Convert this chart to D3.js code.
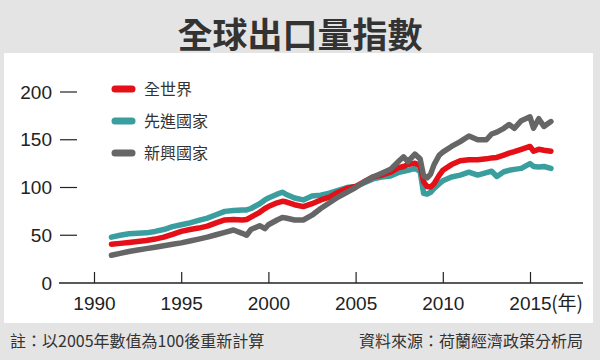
<!DOCTYPE html>
<html>
<head>
<meta charset="utf-8">
<script src="https://cdn.jsdelivr.net/npm/d3@7"></script>
<style>
  body { margin: 0; background: #e4e4e4; }
  svg { display: block; }
</style>
</head>
<body>
<svg id="chart" width="600" height="360"></svg>
<script>
// Export volume index (2005 = 100)
const years = [1991, 1991.5, 1992, 1992.5, 1993, 1993.5, 1994, 1994.5, 1995, 1995.5,
  1996, 1996.5, 1997, 1997.5, 1998, 1998.5, 1998.75, 1999, 1999.5, 1999.8,
  2000, 2000.5, 2000.8, 2001, 2001.5, 2002, 2002.5, 2003, 2003.5, 2004,
  2004.5, 2005, 2005.5, 2006, 2006.5, 2007, 2007.5, 2007.75, 2008, 2008.4,
  2008.7, 2008.9, 2009.1, 2009.3, 2009.5, 2009.8, 2010, 2010.5, 2011, 2011.5,
  2012, 2012.5, 2012.8, 2013.1, 2013.5, 2013.8, 2014.1, 2014.5, 2015, 2015.2,
  2015.5, 2015.8, 2016.2];

const world = [40.5, 41.5, 42.5, 43.5, 44.5, 46, 48, 51, 54, 56,
  57.5, 59.5, 63, 66, 66.5, 66, 66.5, 69, 74, 78,
  80, 84, 85.5, 85, 82, 80, 83, 87, 90, 95,
  99, 101, 106, 111, 113, 116, 121, 122, 124, 125.5,
  123, 106, 101, 100.5, 104, 113, 118, 124, 128, 129,
  129, 130, 131, 131.5, 134, 136, 137.5, 140, 143, 138,
  140, 139, 138];

const advanced = [48, 50, 51.5, 52, 52.5, 54, 56, 59, 61, 63,
  65.5, 68, 71.5, 75, 76, 76.5, 76.5, 78, 83, 87,
  89, 93, 95, 93, 89, 87, 91, 92, 94, 97,
  100, 101, 105, 109, 111, 112, 116, 117, 118, 120,
  117, 94, 93, 95, 99, 104, 107, 111, 113, 116,
  113, 115.5, 117, 111.5, 116.5, 118, 119, 120, 125, 122,
  121.5, 122, 120];

const emerging = [29, 31, 33, 34.5, 36, 37.5, 39, 40.5, 42, 44,
  46, 48, 50.5, 53, 55.5, 52, 50, 56, 60, 57,
  61, 66, 68.5, 68, 66, 66, 71, 78, 84, 90,
  95, 100, 106, 111, 115, 119, 128, 132, 127, 135,
  130, 112, 110, 114, 124, 134, 137, 143, 148, 154,
  150, 150, 156, 158, 162, 166, 162, 170, 174, 162,
  172, 164, 169];

const yTicks = [0, 50, 100, 150, 200];
const xTicks = [1990, 1995, 2000, 2005, 2010, 2015];

const seriesNames = ["全世界", "先進國家", "新興國家"];
const seriesColors = ["#e50f17", "#3a9e9f", "#666666"];
const seriesValues = [world, advanced, emerging];

const titleText = "全球出口量指數";
const noteText = "註：以2005年數值為100後重新計算";
const sourceText = "資料來源：荷蘭經濟政策分析局";

const svg = d3.select("#chart");
const cjk = "'Noto Sans CJK TC', 'Noto Sans', sans-serif";
const num = "'Liberation Sans', Arial, sans-serif";

// background: grey frame with a white panel
svg.append("rect").attr("width", 600).attr("height", 360).attr("fill", "#e4e4e4");
svg.append("rect")
  .attr("x", 4).attr("y", 53)
  .attr("width", 589).attr("height", 270)
  .attr("fill", "#ffffff");

// title
svg.append("text")
  .attr("x", 300).attr("y", 32)
  .attr("text-anchor", "middle")
  .attr("dominant-baseline", "central")
  .attr("font-family", cjk)
  .attr("font-weight", 700)
  .attr("font-size", 35)
  .attr("fill", "#333")
  .text(titleText);

// scales
const x = d3.scaleLinear().domain([1990, 2015]).range([94, 530]);
const y = d3.scaleLinear().domain([0, 200]).range([283, 92]);

// y axis labels with short dashes
const yG = svg.append("g");
yG.selectAll("text")
  .data(yTicks)
  .join("text")
  .attr("x", 52)
  .attr("y", (d) => y(d))
  .attr("dy", "0.35em")
  .attr("text-anchor", "end")
  .attr("font-family", num)
  .attr("font-size", 19)
  .attr("fill", "#222")
  .text((d) => d);

yG.selectAll("line")
  .data(yTicks.filter((d) => d > 0))
  .join("line")
  .attr("x1", 60).attr("x2", 77)
  .attr("y1", (d) => y(d)).attr("y2", (d) => y(d))
  .attr("stroke", "#222")
  .attr("stroke-width", 1.2);

// x axis
const xAxis = d3.axisBottom(x)
  .tickValues(xTicks)
  .tickSize(-11)
  .tickSizeOuter(0)
  .tickFormat(d3.format("d"));

const xG = svg.append("g")
  .attr("transform", `translate(0,${y(0)})`)
  .call(xAxis);
xG.select(".domain").remove();
xG.selectAll(".tick line").attr("stroke", "#222").attr("stroke-width", 1.2);
xG.selectAll(".tick text")
  .attr("y", 27)
  .attr("dy", 0)
  .attr("font-family", num)
  .attr("font-size", 19)
  .attr("fill", "#222");
xG.append("line")
  .attr("x1", 59).attr("x2", 583)
  .attr("stroke", "#222")
  .attr("stroke-width", 1.3);

// "(年)" suffix after the last tick label
const lastLabel = xG.selectAll(".tick text").filter((d) => d === 2015);
const halfW = lastLabel.node().getComputedTextLength() / 2;
xG.append("text")
  .attr("x", x(2015) + halfW)
  .attr("y", 27)
  .attr("text-anchor", "start")
  .attr("font-family", cjk)
  .attr("font-size", 19)
  .attr("fill", "#222")
  .text("(年)");

// lines
const line = d3.line()
  .x((d) => x(d[0]))
  .y((d) => y(d[1]));

const order = [1, 0, 2]; // teal under red, grey on top
svg.append("g")
  .selectAll("path")
  .data(order)
  .join("path")
  .attr("d", (i) => line(years.map((yr, k) => [yr, seriesValues[i][k]])))
  .attr("fill", "none")
  .attr("stroke", (i) => seriesColors[i])
  .attr("stroke-width", 5.5)
  .attr("stroke-linejoin", "round")
  .attr("stroke-linecap", "round");

// legend
const legend = svg.append("g")
  .selectAll("g")
  .data(seriesNames)
  .join("g")
  .attr("transform", (d, i) => `translate(0,${89 + i * 32})`);

legend.append("line")
  .attr("x1", 115).attr("x2", 132)
  .attr("stroke", (d, i) => seriesColors[i])
  .attr("stroke-width", 7)
  .attr("stroke-linecap", "round");

legend.append("text")
  .attr("x", 144)
  .attr("dy", "0.35em")
  .attr("font-family", cjk)
  .attr("font-size", 16)
  .attr("fill", "#333")
  .text((d) => d);

// footer
svg.append("text")
  .attr("x", 10).attr("y", 340)
  .attr("dominant-baseline", "central")
  .attr("font-family", cjk)
  .attr("font-size", 16)
  .attr("fill", "#333")
  .text(noteText);

svg.append("text")
  .attr("x", 583).attr("y", 340)
  .attr("text-anchor", "end")
  .attr("dominant-baseline", "central")
  .attr("font-family", cjk)
  .attr("font-size", 16)
  .attr("fill", "#333")
  .text(sourceText);
</script>
</body>
</html>
